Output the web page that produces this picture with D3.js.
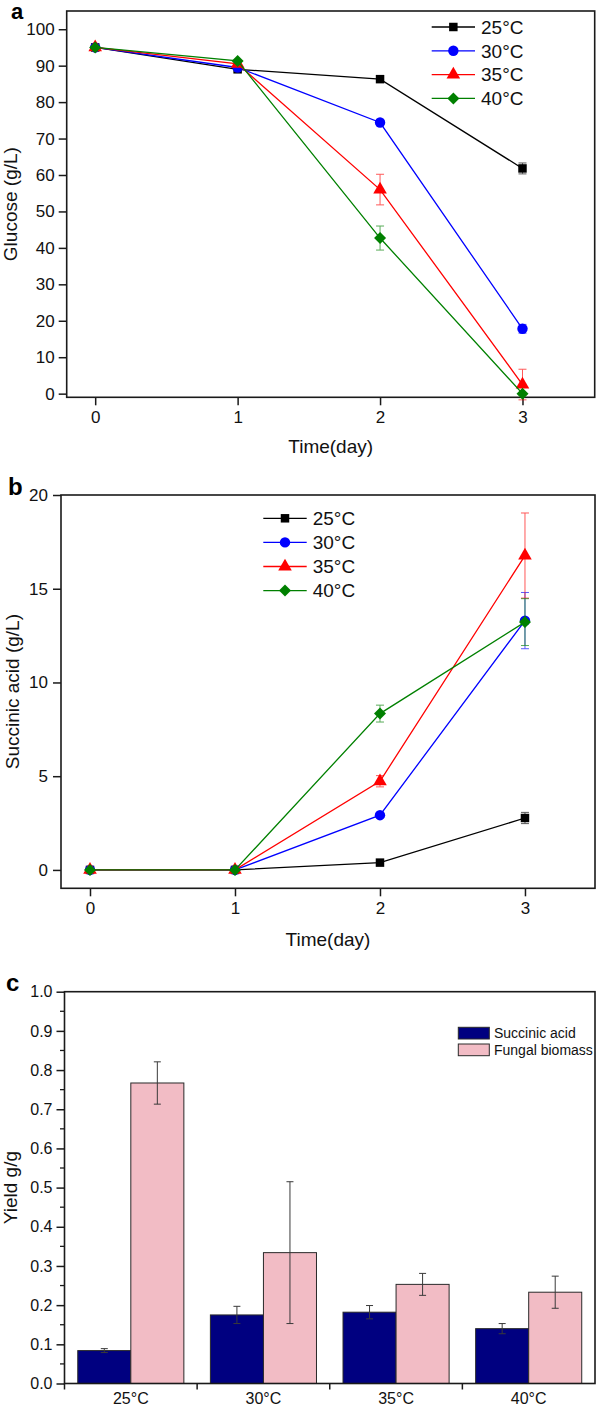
<!DOCTYPE html>
<html>
<head>
<meta charset="utf-8">
<script src="https://cdnjs.cloudflare.com/ajax/libs/d3/7.8.5/d3.min.js"></script>
<style>
  html, body { margin: 0; padding: 0; background: #fff; }
  svg { display: block; font-family: "Liberation Sans", Arial, sans-serif; }
</style>
</head>
<body>
<svg id="chart" width="597" height="1409"></svg>
<script>
// ---------------- DATA ----------------
const days = [0, 1, 2, 3];
const temperatures = ["25°C", "30°C", "35°C", "40°C"];
const seriesColors = ["#000000", "#0000ff", "#ff0000", "#008000"];
const seriesMarkers = ["square", "circle", "triangle", "diamond"];

// Panel a: glucose (g/L)
const glucose25 = [95, 89.0, 86.3, 61.8];
const glucose30 = [95, 89.5, 74.4, 17.8];
const glucose35 = [95, 90.5, 56.0, 2.5];
const glucose40 = [95, 91.3, 42.7, 0.0];
const glucoseErr25 = [0.5, 0.5, 0.6, 1.5];
const glucoseErr30 = [0.5, 0.5, 0.6, 1.2];
const glucoseErr35 = [0.5, 0.5, 4.2, 4.2];
const glucoseErr40 = [0.5, 0.5, 3.3, 0.3];
const glucoseTicks = [0, 10, 20, 30, 40, 50, 60, 70, 80, 90, 100];

// Panel b: succinic acid (g/L)
const succinic25 = [0, 0, 0.39, 2.77];
const succinic30 = [0, 0, 2.92, 13.3];
const succinic35 = [0, 0, 4.73, 16.77];
const succinic40 = [0, 0, 8.34, 13.22];
const succinicErr25 = [0, 0, 0.1, 0.3];
const succinicErr30 = [0, 0, 0.1, 1.5];
const succinicErr35 = [0, 0, 0.3, 2.27];
const succinicErr40 = [0, 0, 0.45, 1.25];
const succinicTicks = [0, 5, 10, 15, 20];

// Panel c: yield g/g
const yieldCategories = ["25°C", "30°C", "35°C", "40°C"];
const yieldSeries = ["Succinic acid", "Fungal biomass"];
const yieldColors = ["#000080", "#f2bcc5"];
const succinicYield = [0.084, 0.175, 0.182, 0.140];
const succinicYieldErr = [0.005, 0.022, 0.017, 0.013];
const biomassYield = [0.767, 0.334, 0.253, 0.233];
const biomassYieldErr = [0.054, 0.181, 0.028, 0.041];
const yieldTicks = [0, 0.1, 0.2, 0.3, 0.4, 0.5, 0.6, 0.7, 0.8, 0.9, 1.0];

// ---------------- DRAW ----------------
const svg = d3.select("#chart");
const FRAME = "#1a1a1a";

function markerPath(type) {
  if (type === "diamond") {
    const r = 6;
    return `M0,${-r}L${r},0L0,${r}L${-r},0Z`;
  }
  const sym = {
    square: d3.symbol().type(d3.symbolSquare).size(72),
    circle: d3.symbol().type(d3.symbolCircle).size(85),
    triangle: d3.symbol().type(d3.symbolTriangle).size(80)
  }[type];
  return sym();
}

function linePanel(cfg) {
  const g = svg.append("g");
  const x = d3.scaleLinear().domain(cfg.xDomain).range([cfg.left, cfg.right]);
  const y = d3.scaleLinear().domain(cfg.yDomain).range([cfg.bottom, cfg.top]);

  const ya = g.append("g").attr("transform", `translate(${cfg.left},0)`)
    .call(d3.axisLeft(y).tickValues(cfg.yTicks).tickSize(8).tickPadding(cfg.yPad).tickFormat(d3.format("d")));
  const xa = g.append("g").attr("transform", `translate(0,${cfg.bottom})`)
    .call(d3.axisBottom(x).tickValues(days).tickSize(8).tickPadding(6).tickFormat(d3.format("d")));
  [ya, xa].forEach(a => {
    a.select(".domain").remove();
    a.selectAll(".tick line").attr("stroke", FRAME).attr("stroke-width", 1.5);
    a.selectAll(".tick text").attr("font-size", 17).attr("fill", "#111")
      .attr("font-family", "'Liberation Sans', Arial, sans-serif");
  });

  g.append("rect").attr("x", cfg.left).attr("y", cfg.top)
    .attr("width", cfg.right - cfg.left).attr("height", cfg.bottom - cfg.top)
    .attr("fill", "none").attr("stroke", FRAME).attr("stroke-width", 1.6);

  cfg.series.forEach((vals, i) => {
    const pts = days.map((d, j) => ({ d, v: vals[j], e: cfg.errors[i][j] }));
    const col = seriesColors[i];
    g.append("path").datum(pts)
      .attr("fill", "none").attr("stroke", col).attr("stroke-width", 1.3)
      .attr("d", d3.line().x(p => x(p.d)).y(p => y(p.v)));
    const eg = g.append("g").attr("stroke", col).attr("stroke-width", 1).attr("opacity", 0.65);
    pts.filter(p => p.e >= cfg.errMin).forEach(p => {
      const cx = x(p.d), y1 = y(p.v + p.e), y2 = y(p.v - p.e);
      eg.append("line").attr("x1", cx).attr("x2", cx).attr("y1", y1).attr("y2", y2);
      eg.append("line").attr("x1", cx - 4).attr("x2", cx + 4).attr("y1", y1).attr("y2", y1);
      eg.append("line").attr("x1", cx - 4).attr("x2", cx + 4).attr("y1", y2).attr("y2", y2);
    });
    g.selectAll(null).data(pts).enter().append("path")
      .attr("d", markerPath(seriesMarkers[i]))
      .attr("transform", p => `translate(${x(p.d)},${y(p.v)})`)
      .attr("fill", col);
  });

  temperatures.forEach((t, i) => {
    const ly = cfg.legY + i * cfg.legStep;
    g.append("line").attr("x1", cfg.legX0).attr("x2", cfg.legX1).attr("y1", ly).attr("y2", ly)
      .attr("stroke", seriesColors[i]).attr("stroke-width", 1.3);
    g.append("path").attr("d", markerPath(seriesMarkers[i]))
      .attr("transform", `translate(${(cfg.legX0 + cfg.legX1) / 2},${ly})`)
      .attr("fill", seriesColors[i]);
    g.append("text").attr("x", cfg.legX1 + 6).attr("y", ly).attr("dy", "0.36em")
      .attr("font-size", 19).attr("fill", "#111").text(t);
  });

  g.append("text").attr("x", (cfg.left + cfg.right) / 2).attr("y", cfg.xTitleY)
    .attr("text-anchor", "middle").attr("font-size", 19).attr("fill", "#111").text("Time(day)");
  g.append("text")
    .attr("transform", `translate(${cfg.yTitleX},${(cfg.top + cfg.bottom) / 2}) rotate(-90)`)
    .attr("text-anchor", "middle").attr("font-size", 19).attr("fill", "#111").text(cfg.yTitle);
  g.append("text").attr("x", cfg.labelX).attr("y", cfg.labelY)
    .attr("font-size", cfg.labelSize).attr("font-weight", "bold").attr("fill", "#000").text(cfg.label);
}

linePanel({
  left: 66.7, right: 594.7, top: 11, bottom: 397.3,
  xDomain: [-0.2, 3.507], yDomain: [-1, 105],
  yTicks: glucoseTicks, yPad: 4, errMin: 0.7,
  series: [glucose25, glucose30, glucose35, glucose40],
  errors: [glucoseErr25, glucoseErr30, glucoseErr35, glucoseErr40],
  legX0: 431.7, legX1: 475, legY: 27, legStep: 23.8,
  xTitleY: 453, yTitleX: 17, yTitle: "Glucose (g/L)",
  label: "a", labelX: 11, labelY: 19, labelSize: 22
});

linePanel({
  left: 61, right: 595, top: 495, bottom: 888.3,
  xDomain: [-0.2, 3.483], yDomain: [-0.98, 20],
  yTicks: succinicTicks, yPad: 5, errMin: 0.2,
  series: [succinic25, succinic30, succinic35, succinic40],
  errors: [succinicErr25, succinicErr30, succinicErr35, succinicErr40],
  legX0: 263.3, legX1: 306.7, legY: 518.3, legStep: 24.1,
  xTitleY: 946, yTitleX: 19, yTitle: "Succinic acid (g/L)",
  label: "b", labelX: 8, labelY: 495, labelSize: 24
});

// ---------------- PANEL C ----------------
(function () {
  const left = 64.5, right = 595, top = 991.7, bottom = 1383.5;
  const g = svg.append("g");
  const x0 = d3.scaleBand().domain(yieldCategories).range([left, right]).padding(0);
  const x1 = d3.scaleBand().domain(yieldSeries).range([0, x0.bandwidth()]).paddingInner(0).paddingOuter(0.25);
  const y = d3.scaleLinear().domain([0, 1.0]).range([bottom, top]);

  const ya = g.append("g").attr("transform", `translate(${left},0)`)
    .call(d3.axisLeft(y).tickValues(yieldTicks).tickSize(8).tickPadding(4).tickFormat(d3.format(".1f")));
  ya.select(".domain").remove();
  ya.selectAll(".tick line").attr("stroke", FRAME).attr("stroke-width", 1.5);
  ya.selectAll(".tick text").attr("font-size", 16).attr("fill", "#111")
    .attr("font-family", "'Liberation Sans', Arial, sans-serif");
  const minor = yieldTicks.slice(0, -1).map(t => t + 0.05);
  g.selectAll(null).data(minor).enter().append("line")
    .attr("x1", left - 4.5).attr("x2", left).attr("y1", d => y(d)).attr("y2", d => y(d))
    .attr("stroke", FRAME).attr("stroke-width", 1.3);

  const xa = g.append("g").attr("transform", `translate(0,${bottom})`)
    .call(d3.axisBottom(x0).tickSize(0).tickPadding(9));
  xa.select(".domain").remove();
  xa.selectAll(".tick text").attr("font-size", 16).attr("fill", "#111")
    .attr("font-family", "'Liberation Sans', Arial, sans-serif");
  g.selectAll(null).data(yieldCategories.slice(1)).enter().append("line")
    .attr("x1", d => x0(d)).attr("x2", d => x0(d)).attr("y1", bottom).attr("y2", bottom + 6)
    .attr("stroke", FRAME).attr("stroke-width", 1.5);
  g.append("line").attr("x1", left).attr("x2", left).attr("y1", bottom).attr("y2", bottom + 6)
    .attr("stroke", FRAME).attr("stroke-width", 1.5);

  const rows = yieldCategories.map((c, i) => ({
    c, vals: [succinicYield[i], biomassYield[i]], errs: [succinicYieldErr[i], biomassYieldErr[i]]
  }));
  rows.forEach(r => {
    yieldSeries.forEach((s, k) => {
      const bx = x0(r.c) + x1(s);
      g.append("rect").attr("x", bx).attr("y", y(r.vals[k]))
        .attr("width", x1.bandwidth()).attr("height", bottom - y(r.vals[k]))
        .attr("fill", yieldColors[k]).attr("stroke", "#2a2a2a").attr("stroke-width", 1);
    });
  });
  rows.forEach(r => {
    yieldSeries.forEach((s, k) => {
      const cx = x0(r.c) + x1(s) + x1.bandwidth() / 2;
      const y1 = y(r.vals[k] + r.errs[k]), y2 = y(r.vals[k] - r.errs[k]);
      const eg = g.append("g").attr("stroke", "#3a3a3a").attr("stroke-width", 1);
      eg.append("line").attr("x1", cx).attr("x2", cx).attr("y1", y1).attr("y2", y2);
      eg.append("line").attr("x1", cx - 3.5).attr("x2", cx + 3.5).attr("y1", y1).attr("y2", y1);
      eg.append("line").attr("x1", cx - 3.5).attr("x2", cx + 3.5).attr("y1", y2).attr("y2", y2);
    });
  });

  g.append("rect").attr("x", left).attr("y", top)
    .attr("width", right - left).attr("height", bottom - top)
    .attr("fill", "none").attr("stroke", FRAME).attr("stroke-width", 1.6);

  yieldSeries.forEach((s, k) => {
    const ly = 1027.3 + k * 16.7;
    g.append("rect").attr("x", 458.3).attr("y", ly).attr("width", 31).attr("height", 11.7)
      .attr("fill", yieldColors[k]).attr("stroke", "#2a2a2a").attr("stroke-width", 1);
    g.append("text").attr("x", 494).attr("y", ly + 5.85).attr("dy", "0.36em")
      .attr("font-size", 14).attr("fill", "#111").text(s);
  });

  g.append("text")
    .attr("transform", `translate(17,${(top + bottom) / 2}) rotate(-90)`)
    .attr("text-anchor", "middle").attr("font-size", 19).attr("fill", "#111").text("Yield g/g");
  g.append("text").attr("x", 6).attr("y", 991).attr("font-size", 24)
    .attr("font-weight", "bold").attr("fill", "#000").text("c");
})();
</script>
</body>
</html>
